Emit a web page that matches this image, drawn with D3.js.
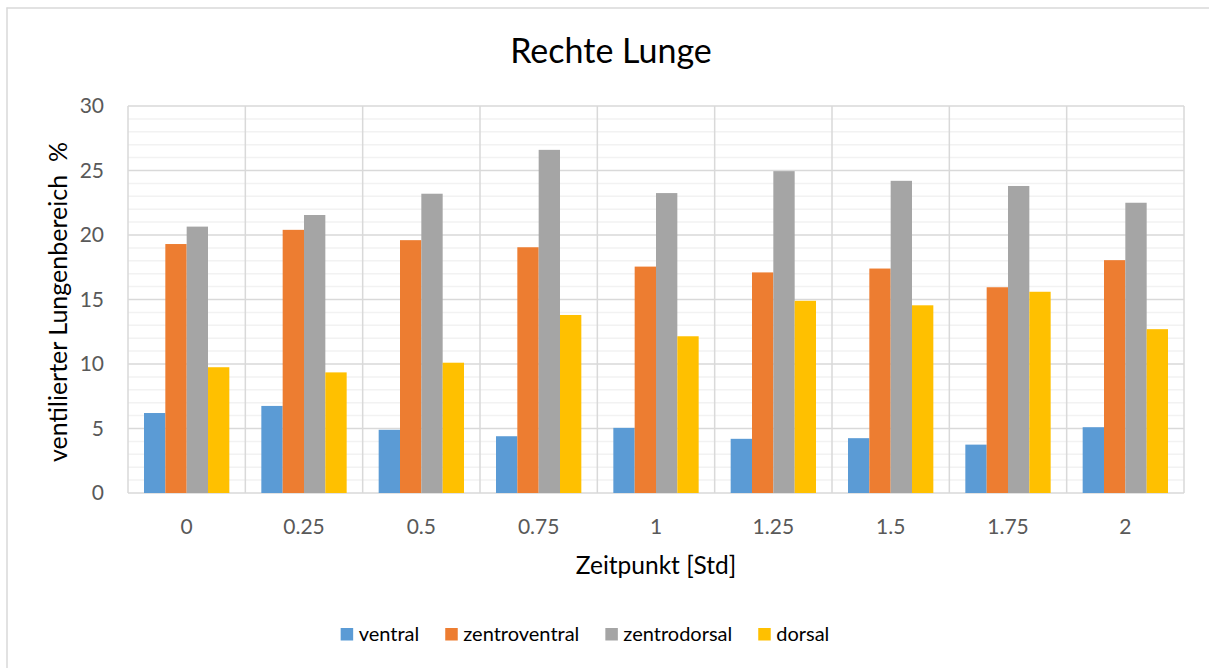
<!DOCTYPE html>
<html>
<head>
<meta charset="utf-8">
<script src="https://cdn.jsdelivr.net/npm/d3@7"></script>
<style>
  html, body { margin: 0; padding: 0; background: #fff; overflow: hidden; }
  svg { display: block; font-family: Lato, "Open Sans", sans-serif; }
</style>
</head>
<body>
<svg id="chart" width="1209" height="668"></svg>
<script>
const categories = ["0", "0.25", "0.5", "0.75", "1", "1.25", "1.5", "1.75", "2"];
const seriesNames = ["ventral", "zentroventral", "zentrodorsal", "dorsal"];
const ventral       = [6.2, 6.75, 4.9, 4.4, 5.05, 4.2, 4.25, 3.75, 5.1];
const zentroventral = [19.3, 20.4, 19.6, 19.05, 17.55, 17.1, 17.4, 15.95, 18.05];
const zentrodorsal  = [20.65, 21.55, 23.2, 26.6, 23.25, 24.95, 24.2, 23.8, 22.5];
const dorsal        = [9.75, 9.35, 10.1, 13.8, 12.15, 14.9, 14.55, 15.6, 12.7];
const yTicks = [0, 5, 10, 15, 20, 25, 30];
const colors = ["#5b9bd5", "#ed7d31", "#a5a5a5", "#ffc000"];
const seriesValues = [ventral, zentroventral, zentrodorsal, dorsal];

const svg = d3.select("#chart");
const plot = { left: 128, right: 1184, top: 106, bottom: 493 };

// outer chart border (left and top edges visible)
svg.append("line").attr("x1", 7).attr("x2", 7).attr("y1", 7.5).attr("y2", 668)
  .attr("stroke", "#d9d9d9").attr("stroke-width", 1.5);
svg.append("line").attr("x1", 6.5).attr("x2", 1209).attr("y1", 8).attr("y2", 8)
  .attr("stroke", "#d9d9d9").attr("stroke-width", 1.5);

const x = d3.scaleBand().domain(categories).range([plot.left, plot.right]).padding(0);
const catW = x.bandwidth();
const xs = d3.scaleBand().domain(seriesNames).range([16, catW - 16]).padding(0);
const y = d3.scaleLinear().domain([0, 30]).range([plot.bottom, plot.top]);

// minor gridlines
const minor = d3.range(0, 31).filter(v => v % 5 !== 0);
svg.append("g").selectAll("line").data(minor).join("line")
  .attr("x1", plot.left).attr("x2", plot.right)
  .attr("y1", d => y(d)).attr("y2", d => y(d))
  .attr("stroke", "#f2f2f2").attr("stroke-width", 1.5);
// major gridlines
svg.append("g").selectAll("line").data(yTicks.filter(v => v > 0)).join("line")
  .attr("x1", plot.left).attr("x2", plot.right)
  .attr("y1", d => y(d)).attr("y2", d => y(d))
  .attr("stroke", "#d9d9d9").attr("stroke-width", 1.5);
// vertical category boundaries
const bounds = categories.map(c => x(c)).concat([plot.right]);
svg.append("g").selectAll("line").data(bounds).join("line")
  .attr("x1", d => d).attr("x2", d => d)
  .attr("y1", plot.top).attr("y2", plot.bottom)
  .attr("stroke", "#d9d9d9").attr("stroke-width", 1.5);
// baseline
svg.append("line").attr("x1", plot.left).attr("x2", plot.right)
  .attr("y1", y(0)).attr("y2", y(0)).attr("stroke", "#d9d9d9").attr("stroke-width", 1.5);

// bars
const data = [];
categories.forEach((c, i) => seriesNames.forEach((s, j) => data.push({ c, s, j, v: seriesValues[j][i] })));
svg.append("g").selectAll("rect").data(data).join("rect")
  .attr("x", d => x(d.c) + xs(d.s))
  .attr("width", xs.bandwidth())
  .attr("y", d => y(d.v))
  .attr("height", d => y(0) - y(d.v))
  .attr("fill", d => colors[d.j]);

// y axis
const yAxis = svg.append("g").attr("transform", `translate(${plot.left - 24},0)`)
  .call(d3.axisLeft(y).tickValues(yTicks).tickSize(0).tickPadding(0));
yAxis.select(".domain").remove();
yAxis.selectAll("text").attr("font-size", 21).attr("fill", "#595959")
  .attr("font-family", "Lato, sans-serif");

// x axis
const xAxis = svg.append("g").attr("transform", `translate(0,${plot.bottom + 26})`)
  .call(d3.axisBottom(x).tickSize(0).tickPadding(0));
xAxis.select(".domain").remove();
xAxis.selectAll("text").attr("font-size", 21).attr("fill", "#595959")
  .attr("font-family", "Lato, sans-serif");

// title
svg.append("text").attr("x", 611).attr("y", 63).attr("text-anchor", "middle")
  .attr("font-size", 34).attr("fill", "#000").text("Rechte Lunge");

// axis titles
svg.append("text").attr("x", (plot.left + plot.right) / 2).attr("y", 574)
  .attr("text-anchor", "middle").attr("font-size", 24.5).attr("fill", "#000")
  .text("Zeitpunkt [Std]");
svg.append("text").attr("transform", "translate(67,302) rotate(-90)")
  .attr("text-anchor", "middle").attr("font-size", 25).attr("fill", "#000")
  .attr("xml:space", "preserve").style("white-space", "pre")
  .text("ventilierter Lungenbereich  %");

// legend
const legend = svg.append("g");
const items = legend.selectAll("g").data(seriesNames).join("g");
items.append("rect").attr("width", 12.5).attr("height", 12.5).attr("y", -13)
  .attr("fill", (d, i) => colors[i]);
items.append("text").attr("x", 18).attr("y", 0).attr("font-size", 20).attr("fill", "#000")
  .text(d => d);
let off = 0;
const offs = [];
items.each(function() {
  offs.push(off);
  const w = d3.select(this).select("text").node().getComputedTextLength();
  off += 18 + w + 26;
});
const totalW = off - 26;
items.attr("transform", (d, i) => `translate(${offs[i]},0)`);
legend.attr("transform", `translate(${585 - totalW / 2},641)`);
</script>
</body>
</html>
